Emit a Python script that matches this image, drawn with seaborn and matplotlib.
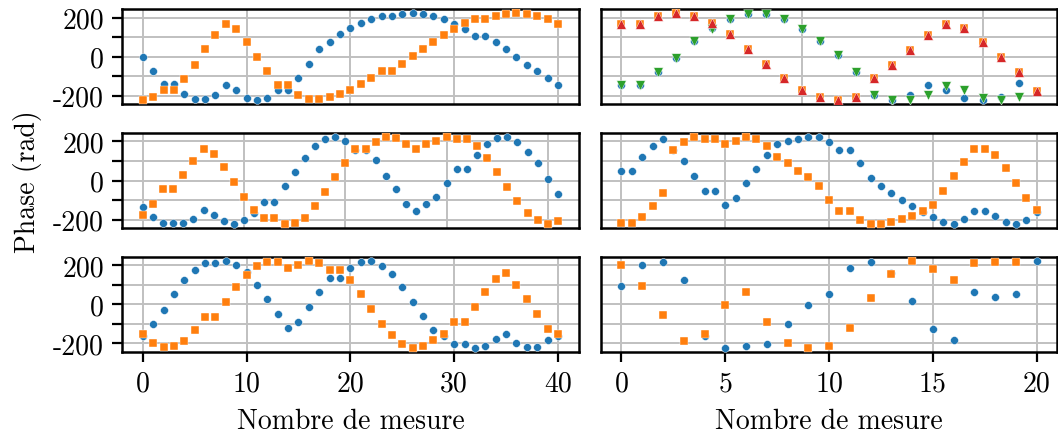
import numpy as np
import pandas as pd
import seaborn as sns
import matplotlib.pyplot as plt
from matplotlib.ticker import MultipleLocator

# --- data ---
top_left_blue = [0, -74, -142, -142, -193, -219, -219, -195, -147, -171, -210, -220, -210, -171, -171,
                 -109, -39, 37, 76, 118, 145, 173, 191, 210, 210, 219, 222, 219, 207, 191, 169, 140,
                 107, 107, 73, 37, -2, -42, -76, -112, -147]
top_left_orange = [-222, -209, -172, -172, -114, -42, 37, 109, 167, 142, 76, 0, -74, -143, -143, -197,
                   -219, -219, -209, -191, -169, -142, -112, -74, -74, -39, 3, 40, 76, 112, 143, 171,
                   193, 193, 210, 221, 222, 217, 209, 191, 167]

top_right_blue = [-145, -145, -78, -6, 78, 147, 191, 219, 219, 191, 140, 78, 6, -78, -195, -221,
                  -195, -147, -171, -210, -222, -209, -137]
top_right_orange = [169, 169, 210, 222, 210, 173, 114, 39, -39, -109, -169, -207, -221, -207, -111,
                    -42, 35, 111, 169, 145, 75, 0, -78, -174]
top_right_green = [-145, -145, -78, -6, 78, 140, 191, 219, 219, 191, 140, 78, 6, -78, -195, -221,
                   -221, -197, -149, -171, -211, -221, -209]
top_right_red = [169, 169, 210, 222, 210, 173, 114, 39, -39, -109, -169, -207, -221, -207, -111,
                 -42, 35, 111, 169, 145, 75, 0, -78, -174]

mid_left_blue = [-137, -186, -217, -217, -220, -198, -152, -176, -210, -222, -205, -166, -109, -109,
                 -26, 46, 116, 179, 212, 221, 202, 157, 157, 104, 22, -46, -120, -154, -120, -84,
                 -12, 58, 58, 132, 188, 217, 221, 197, 145, 91, 7, -70]
mid_left_orange = [-176, -121, -46, -46, 29, 99, 161, 137, 70, -9, -82, -149, -193, -193, -222, -217,
                   -190, -132, -60, 17, 89, 159, 159, 195, 221, 217, 186, 161, 186, 205, 222, 214,
                   214, 178, 116, 43, -31, -103, -168, -202, -222, -210]

mid_right_blue = [51, 51, 123, 179, 212, 157, 101, 22, -56, -56, -125, -89, -14, 60, 130, 185, 202,
                  214, 222, 222, 198, 157, 157, 92, 14, -27, -62, -99, -132, -164, -185, -215, -221,
                  -198, -154, -154, -181, -214, -222, -202, -162]
mid_right_orange = [-217, -217, -185, -132, -62, 154, 197, 221, 214, 214, 185, 203, 221, 214, 179, 123,
                    89, 51, 17, -26, -99, -157, -157, -202, -222, -222, -214, -198, -180, -154, -125,
                    -53, 22, 97, 159, 159, 130, 62, -12, -89, -152]

bot_left_blue = [-164, -101, -27, 53, 123, 176, 214, 214, 222, 203, 164, 101, 27, -50, -121, -89, -12,
                 63, 133, 133, 185, 215, 222, 198, 154, 87, 12, -62, -130, -162, -202, -202, -222,
                 -212, -179, -154, -198, -221, -217, -185, -162]
bot_left_orange = [-152, -198, -221, -214, -186, -133, -63, -63, 14, 89, 150, 195, 219, 219, 186, 203,
                   222, 214, 178, 178, 123, 51, -22, -101, -159, -203, -222, -212, -181, -154, -91,
                   -91, -12, 62, 132, 161, 101, 26, -48, -125, -154]

bot_right_blue = [92, 200, 215, 123, -164, -222, -212, -202, -103, -3, 53, 185, 219, 159, 17, -127,
                  -183, 65, 36, 53, 222]
bot_right_orange = [202, 96, -54, -186, -152, -5, 65, -91, -196, -222, -215, -123, 34, 154, 221, 183,
                    127, 212, 219, 219]

# --- style ---
sns.set_style("ticks")
plt.rcParams.update({
    "font.family": "serif",
    "font.serif": ["cmr10"],
    "mathtext.fontset": "cm",
    "axes.unicode_minus": False,
    "axes.formatter.use_mathtext": False,
    "font.size": 10,
    "axes.linewidth": 0.9,
    "axes.edgecolor": "black",
    "xtick.color": "black",
    "ytick.color": "black",
    "text.color": "black",
    "axes.labelcolor": "black",
    "grid.color": "#c0c0c0",
    "grid.linewidth": 0.7,
})

blue, orange, green, red = sns.color_palette("tab10")[:4]

panels = [
    [[(top_left_blue, blue, "o"), (top_left_orange, orange, "s")],
     [(top_right_blue, blue, "o"), (top_right_orange, orange, "s"),
      (top_right_green, green, "v"), (top_right_red, red, "^")]],
    [[(mid_left_blue, blue, "o"), (mid_left_orange, orange, "s")],
     [(mid_right_blue, blue, "o"), (mid_right_orange, orange, "s")]],
    [[(bot_left_blue, blue, "o"), (bot_left_orange, orange, "s")],
     [(bot_right_blue, blue, "o"), (bot_right_orange, orange, "s")]],
]
marker_size = {"o": 8, "s": 7, "v": 12, "^": 12}
x_steps = [[10, 10], [10, 10], [10, 5]]

fig, axes = plt.subplots(3, 2, figsize=(5.29, 2.175), sharey="row")
fig.subplots_adjust(left=0.1153, right=0.9995, top=0.977, bottom=0.1885, wspace=0.048, hspace=0.30)

for r in range(3):
    for c in range(2):
        ax = axes[r, c]
        for vals, col, mk in panels[r][c]:
            df = pd.DataFrame({"x": np.arange(len(vals)), "y": vals})
            sns.scatterplot(data=df, x="x", y="y", color=col, marker=mk, s=marker_size[mk],
                            linewidth=0.15, edgecolor="w", ax=ax, zorder=3)
        ax.set_xlabel("")
        ax.set_ylabel("")
        ax.set_axisbelow(True)
        ax.xaxis.set_major_locator(MultipleLocator(x_steps[r][c]))
        ax.yaxis.set_major_locator(MultipleLocator(200))
        ax.yaxis.set_minor_locator(MultipleLocator(100))
        ax.grid(True, axis="x", which="major")
        ax.grid(True, axis="y", which="both")
        ax.tick_params(axis="both", which="both", length=3.5, width=0.8, pad=3)
        if r < 2:
            ax.tick_params(axis="x", bottom=False, labelbottom=False)
        else:
            ax.set_xlabel("Nombre de mesure")
        if c == 1:
            ax.tick_params(axis="y", which="both", left=False, labelleft=False)
        for sp in ax.spines.values():
            sp.set_visible(True)

axes[1, 0].set_ylabel("Phase (rad)")

fig.savefig("out.png", dpi=200)
